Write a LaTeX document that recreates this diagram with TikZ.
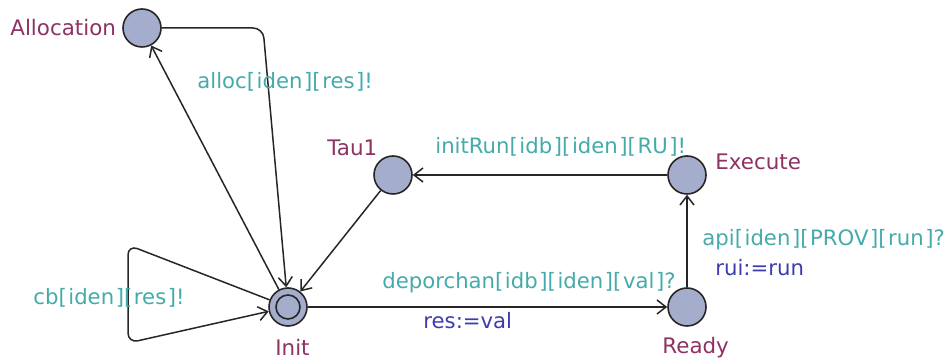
\documentclass[tikz,border=0pt]{standalone}
\usepackage{fontspec}
\setmainfont{DejaVu Sans}
\usetikzlibrary{arrows.meta}
\definecolor{locname}{RGB}{140,50,100}
\definecolor{syncc}{RGB}{70,170,170}
\definecolor{assignc}{RGB}{60,60,175}
\definecolor{locfill}{RGB}{165,173,205}
\newcommand\LB{[\kern0.8pt}
\newcommand\RB{\kern0.8pt]}
\tikzset{
  loc/.style={circle,draw=black!85,fill=locfill,line width=0.8pt,minimum size=19pt,inner sep=0pt},
  lname/.style={text=locname,inner sep=0pt,anchor=west,font=\fontsize{10.7}{12}\selectfont},
  sync/.style={text=syncc,inner sep=0pt,anchor=west,font=\fontsize{10.6}{12}\selectfont},
  assign/.style={text=assignc,inner sep=0pt,anchor=west,font=\fontsize{10.6}{12}\selectfont},
  edge/.style={draw=black!85,line width=0.75pt,-{Straight Barb[length=4.5pt,width=7pt]},rounded corners=5pt}
}
\begin{document}
\begin{tikzpicture}[x=0.5pt,y=-0.5pt]
\useasboundingbox (0,0) rectangle (947,362);
% locations
\node[loc] (alloc) at (142,28) {};
\node[loc] (init) at (288,307) {};
\draw[black!85,line width=0.8pt] (init.center) circle (6pt);
\node[loc] (tau) at (393,175) {};
\node[loc] (exec) at (687,175) {};
\node[loc] (ready) at (687,307) {};
% names
\node[lname] (nalloc) at (10,28) {Allocation};
\node[lname] (ninit) at (275,347) {Init};
\node[lname] (ntau) at (327,148) {Tau1};
\node[lname] (nexec) at (715,162) {Execute};
\node[lname] (nready) at (662,348) {Ready};
% corners
\coordinate (c1) at (263,28);
\coordinate (c2) at (128,245);
\coordinate (c3) at (128,343);
% edges
\draw[edge] (init) -- (alloc);
\draw[edge] (alloc) -- (c1) -- (init);
\draw[edge] (tau) -- (init);
\draw[edge] (exec) -- (tau);
\draw[edge] (init) -- (ready);
\draw[edge] (ready) -- (exec);
\draw[edge] (init) -- (c2) -- (c3) -- (init);
% labels
\node[sync] (l1) at (197,82) {alloc\LB iden\RB\LB res\RB!};
\node[sync] (l2) at (435,147) {initRun\LB idb\RB\LB iden\RB\LB RU\RB!};
\node[sync] (l3) at (702,240) {api\LB iden\RB\LB PROV\RB\LB run\RB?};
\node[assign] (l4) at (715,268) {rui:=run};
\node[sync] (l5) at (382,283) {deporchan\LB idb\RB\LB iden\RB\LB val\RB?};
\node[assign] (l6) at (423,321) {res:=val};
\node[sync] (l7) at (33,298) {cb\LB iden\RB\LB res\RB!};
\end{tikzpicture}
\end{document}
